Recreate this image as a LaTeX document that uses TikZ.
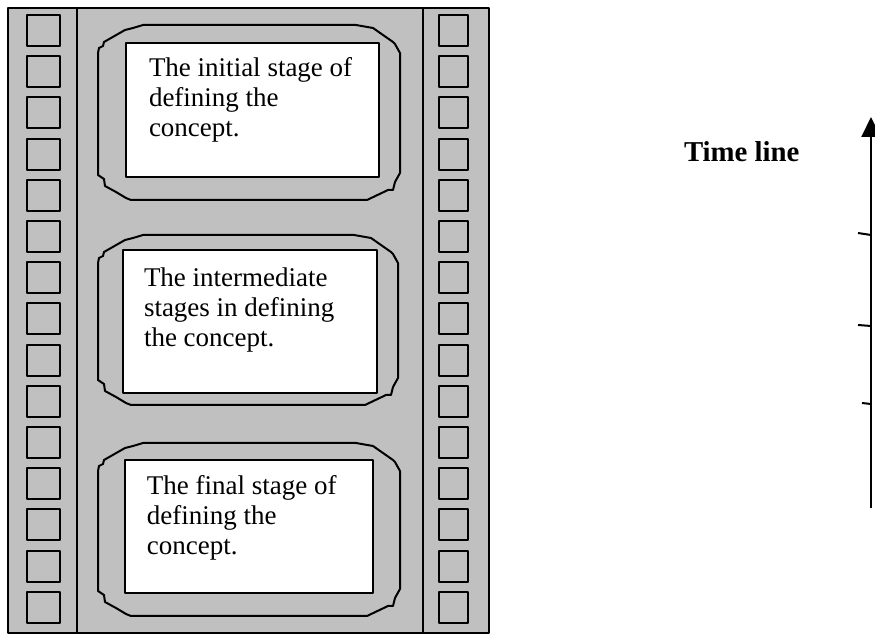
\documentclass[tikz,border=0pt]{standalone}
\usepackage{fontspec}
\setmainfont{Liberation Serif}
\usetikzlibrary{arrows.meta}
\definecolor{filmgrey}{RGB}{192,192,192}

% outline of one frame, corners (#1,#2) and (#3,#4)
\newcommand{\filmframe}[4]{%
\draw (#1,#2+28) -- (#1+1,#2+23) -- (#1+5,#2+21) -- (#1+6,#2+17) -- (#1+27,#2+5)
  -- (#1+35,#2+3) -- (#1+45,#2) -- (#3-44,#2) -- (#3-27,#2+3) -- (#3-7,#2+17)
  -- (#3-5,#2+19) -- (#3,#2+28) -- (#3,#4-27) -- (#3-5,#4-18) -- (#3-7,#4-10)
  -- (#3-12,#4-10) -- (#3-33,#4) -- (#1+33,#4) -- (#1+28,#4-2) -- (#1+18,#4-8)
  -- (#1+7,#4-14) -- (#1+6,#4-21) -- (#1,#4-25) -- cycle;}

\begin{document}
\begin{tikzpicture}[x=0.5pt, y=-0.5pt, line width=1pt, line join=round,
  stagetext/.style={anchor=base west, inner sep=0pt, align=left,
    font=\fontsize{13.5}{15}\selectfont}]
\useasboundingbox (0,0) rectangle (875,636);

% the film strip
\filldraw[fill=filmgrey] (8,8) rectangle (489,633);
\draw (77,8) -- (77,633);
\draw (423,8) -- (423,633);
\foreach \k in {0,...,14} {
  \draw (27,15+41.2*\k) rectangle ++(33,31);
  \draw (439,15+41.2*\k) rectangle ++(29,31);
}

% frames
\filmframe{98}{25}{400}{200}
\filmframe{98}{235}{398}{405}
\filmframe{98}{443}{400}{616}
\filldraw[fill=white] (126,43) rectangle (379,177);
\filldraw[fill=white] (123,250) rectangle (377,393);
\filldraw[fill=white] (125,460) rectangle (373,593);

% base of a node is the baseline of its last line
\node[stagetext] (initial) at (148,137) {The initial stage of\\defining the\\concept.};
\node[stagetext] (intermediate) at (143,347) {The intermediate\\stages in defining\\the concept.};
\node[stagetext] (final) at (146,555) {The final stage of\\defining the\\concept.};

% time line
\node[stagetext, font=\fontsize{14.4}{15}\selectfont\bfseries] (timelabel) at (683,162) {Time line};
\coordinate (tbot) at (871,508);
\coordinate (ttop) at (871,117);
\draw[>={Triangle[length=10pt,width=9.5pt]}, ->] (tbot) -- (ttop);
\draw (858,233) -- (871,235);
\draw (858,325) -- (871,326);
\draw (862,403) -- (871,404);
\end{tikzpicture}
\end{document}
